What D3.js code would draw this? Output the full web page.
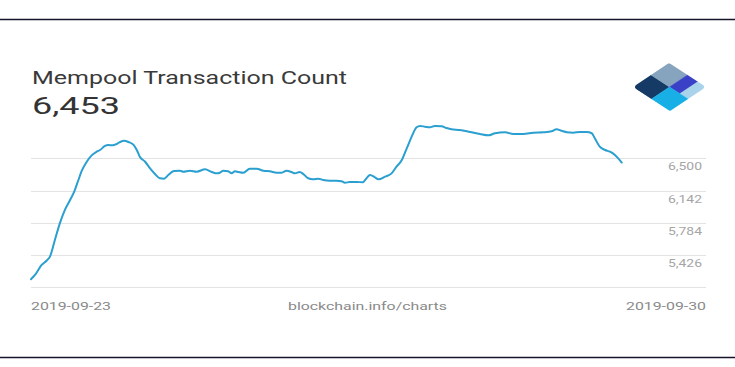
<!DOCTYPE html>
<html>
<head>
<meta charset="utf-8">
<script src="https://cdn.jsdelivr.net/npm/d3@7"></script>
<style>
html,body{margin:0;padding:0;background:#fff;}
svg{display:block;font-family:Roboto,"Noto Sans",sans-serif;}
</style>
</head>
<body>
<svg id="chart" width="735" height="367"></svg>
<script>
// ---- data ----
const title = "Mempool Transaction Count";
const currentValue = "6,453";
const startLabel = "2019-09-23";
const endLabel = "2019-09-30";
const sourceLabel = "blockchain.info/charts";
const yTickValues = [5068, 5426, 5784, 6142, 6500];
const hours = [0,1.05,2.8,4.1,5.0,6.3,7.6,9.0,10.3,11.4,12.5,13.4,14.7,16.0,17.3,18.2,19.5,20.4,21.5,22.6,23.5,24.6,25.7,27.0,27.9,28.7,30.1,31.4,32.7,34.0,35.1,36.2,37.7,39.3,40.2,41.9,43.7,45.9,47.7,49.0,49.8,50.7,52.0,52.9,53.8,54.7,56.0,57.7,59.5,61.3,63.0,64.8,66.1,67.4,68.7,69.6,70.9,71.8,73.1,74.4,75.8,77.1,78.8,80.6,81.9,82.8,84.1,85.9,87.5,88.5,89.4,90.7,91.6,93.4,95.1,96.4,97.8,99.1,100.4,101.7,102.6,103.9,105.2,106.5,108.3,109.6,110.9,113.1,115.8,118.4,120.6,122.4,125.0,127.2,129.8,132.5,135.1,137.3,138.6,139.9,141.3,143.0,144.8,146.5,147.9,148.7,150.0,151.4,152.7,154.0,155.8];
const counts = [5157,5205,5316,5363,5408,5593,5778,5934,6037,6129,6259,6362,6462,6533,6573,6592,6637,6648,6644,6659,6681,6695,6681,6651,6592,6518,6462,6389,6326,6278,6274,6315,6359,6362,6351,6362,6351,6378,6348,6333,6340,6362,6356,6333,6356,6348,6340,6385,6385,6362,6356,6340,6340,6362,6348,6333,6348,6326,6278,6267,6274,6259,6251,6251,6245,6229,6237,6237,6234,6278,6315,6289,6267,6296,6333,6407,6481,6611,6740,6844,6859,6851,6844,6859,6855,6836,6822,6814,6792,6770,6755,6778,6789,6770,6770,6784,6789,6800,6822,6806,6789,6784,6792,6792,6778,6722,6629,6592,6573,6537,6453];
const logoColors = ["#153a66", "#86a4bd", "#3b41c6", "#a8d3ea", "#18aee6"];

// ---- drawing ----
const svg = d3.select("#chart");
const x = d3.scaleLinear().domain([0, 168]).range([31, 668]);
const y = d3.scaleLinear().domain([yTickValues[0], yTickValues[yTickValues.length-1]]).range([287.3, 158.3]);
const gridLeft = 31, gridRight = 706;

// frame lines
svg.append("line").attr("x1",0).attr("x2",735).attr("y1",19.5).attr("y2",19.5)
  .attr("stroke","#14142a").attr("stroke-width",1.3);
svg.append("line").attr("x1",0).attr("x2",735).attr("y1",357.5).attr("y2",357.5)
  .attr("stroke","#14142a").attr("stroke-width",1.3);

// title & value
svg.append("text").attr("x",32).attr("y",84).attr("font-size",17.5).attr("fill","#3a3a3a")
  .attr("textLength",315).attr("lengthAdjust","spacingAndGlyphs").text(title);
svg.append("text").attr("x",32).attr("y",113.5).attr("font-size",23.5).attr("fill","#333")
  .attr("textLength",88).attr("lengthAdjust","spacingAndGlyphs").text(currentValue);

// grid
const grid = svg.append("g");
grid.selectAll("line").data(yTickValues).join("line")
  .attr("x1",gridLeft).attr("x2",gridRight)
  .attr("y1",d=>Math.round(y(d))+0.5).attr("y2",d=>Math.round(y(d))+0.5)
  .attr("stroke","#e3e3e3").attr("stroke-width",1);
grid.selectAll("text").data(yTickValues.slice(1)).join("text")
  .attr("x",702).attr("y",d=>y(d)+12).attr("text-anchor","end")
  .attr("font-size",10.5).attr("fill","#a5a5a5")
  .attr("textLength",34).attr("lengthAdjust","spacingAndGlyphs")
  .text(d=>d3.format(",")(d));

// line
const line = d3.line().x((d,i)=>x(hours[i])).y(d=>y(d)).curve(d3.curveMonotoneX);
svg.append("path").datum(counts).attr("d",line)
  .attr("fill","none").attr("stroke","#2a9fd0").attr("stroke-width",2)
  .attr("stroke-linejoin","round").attr("stroke-linecap","round");

// x labels
svg.append("text").attr("x",31).attr("y",309.5).attr("font-size",11).attr("fill","#8a8a8a")
  .attr("textLength",80).attr("lengthAdjust","spacingAndGlyphs").text(startLabel);
svg.append("text").attr("x",288).attr("y",309.5).attr("font-size",11).attr("fill","#8a8a8a")
  .attr("textLength",159).attr("lengthAdjust","spacingAndGlyphs").text(sourceLabel);
svg.append("text").attr("x",626).attr("y",309.5).attr("font-size",11).attr("fill","#8a8a8a")
  .attr("textLength",80).attr("lengthAdjust","spacingAndGlyphs").text(endLabel);

// logo (diamond of four squares, rounded corners via mask)
const L=[633,87], T=[669,63], B=[670,111];
const P=(u,v)=>[L[0]+u*(T[0]-L[0])+v*(B[0]-L[0]), L[1]+u*(T[1]-L[1])+v*(B[1]-L[1])];
const cell=(u0,u1,v0,v1)=>[P(u0,v0),P(u1,v0),P(u1,v1),P(u0,v1)];
const cells=[cell(0,.5,0,.5),cell(.5,1,0,.5),cell(.5,1,.5,.78),cell(.5,1,.78,1),cell(0,.5,.5,1)];
const e=0.07;
const mask = svg.append("mask").attr("id","logoMask");
mask.append("path")
  .attr("d", d3.line().curve(d3.curveLinearClosed)([P(e,e),P(1-e,e),P(1-e,1-e),P(e,1-e)]))
  .attr("fill","#fff").attr("stroke","#fff").attr("stroke-width",6).attr("stroke-linejoin","round");
const logo = svg.append("g").attr("mask","url(#logoMask)");
logo.selectAll("path").data(cells).join("path")
  .attr("d",d=>d3.line().curve(d3.curveLinearClosed)(d))
  .attr("fill",(d,i)=>logoColors[i]).attr("stroke",(d,i)=>logoColors[i]).attr("stroke-width",0.5);
</script>
</body>
</html>
